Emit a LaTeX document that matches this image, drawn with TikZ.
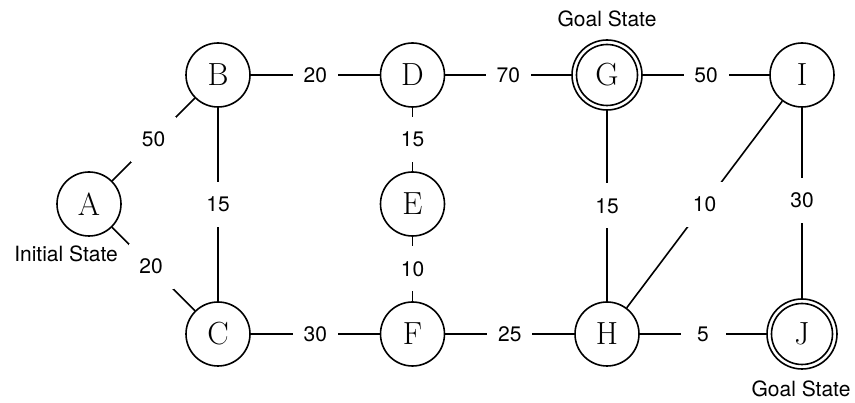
\documentclass[tikz,border=0pt]{standalone}
\usepackage{fontspec}
\newfontfamily\lblfont{TeX Gyre Heros}
\begin{document}
\begin{tikzpicture}[x=1pt,y=-1pt,
  state/.style={draw,circle,line width=1.6pt,minimum size=64pt,inner sep=0pt,
    font=\fontsize{32}{38}\selectfont},
  goal/.style={state,minimum size=70pt},
  lbl/.style={fill=white,minimum size=45pt,inner sep=0pt,
    font=\lblfont\fontsize{21}{25}\selectfont},
  txt/.style={inner sep=0pt,font=\lblfont\fontsize{21}{25}\selectfont},
  edge/.style={line width=1.6pt}]
\path[use as bounding box] (0,0) rectangle (855,403);
\node[state] (A) at (89,204) {A};
\node[state] (B) at (218,75) {B};
\node[state] (C) at (218,334) {C};
\node[state] (D) at (412.5,75) {D};
\node[state] (E) at (412.5,204) {E};
\node[state] (F) at (412.5,334) {F};
\node[goal]  (G) at (607,75) {G};
\node[state] (H) at (607,334) {H};
\node[state] (I) at (802,75) {I};
\node[goal]  (J) at (802,334) {J};
\draw[line width=1.6pt] (G) circle (30.5);
\draw[line width=1.6pt] (J) circle (30.5);
\node[txt] (gs1) at (607,19) {Goal State};
\node[txt] (gs2) at (801,389) {Goal State};
\node[txt] (is) at (66,254) {Initial State};
\draw[edge] (A) -- node[lbl]{50} (B);
\draw[edge] (A) -- node[lbl,pos=0.47]{20} (C);
\draw[edge] (B) -- node[lbl]{15} (C);
\draw[edge] (B) -- node[lbl]{20} (D);
\draw[edge] (D) -- node[lbl]{70} (G);
\draw[edge] (G) -- node[lbl]{50} (I);
\draw[edge] (D) -- node[lbl]{15} (E);
\draw[edge] (E) -- node[lbl]{10} (F);
\draw[edge] (C) -- node[lbl]{30} (F);
\draw[edge] (F) -- node[lbl]{25} (H);
\draw[edge] (H) -- node[lbl]{5} (J);
\draw[edge] (G) -- node[lbl]{15} (H);
\draw[edge] (H) -- node[lbl]{10} (I);
\draw[edge] (I) -- node[lbl,pos=0.485]{30} (J);
\end{tikzpicture}
\end{document}
